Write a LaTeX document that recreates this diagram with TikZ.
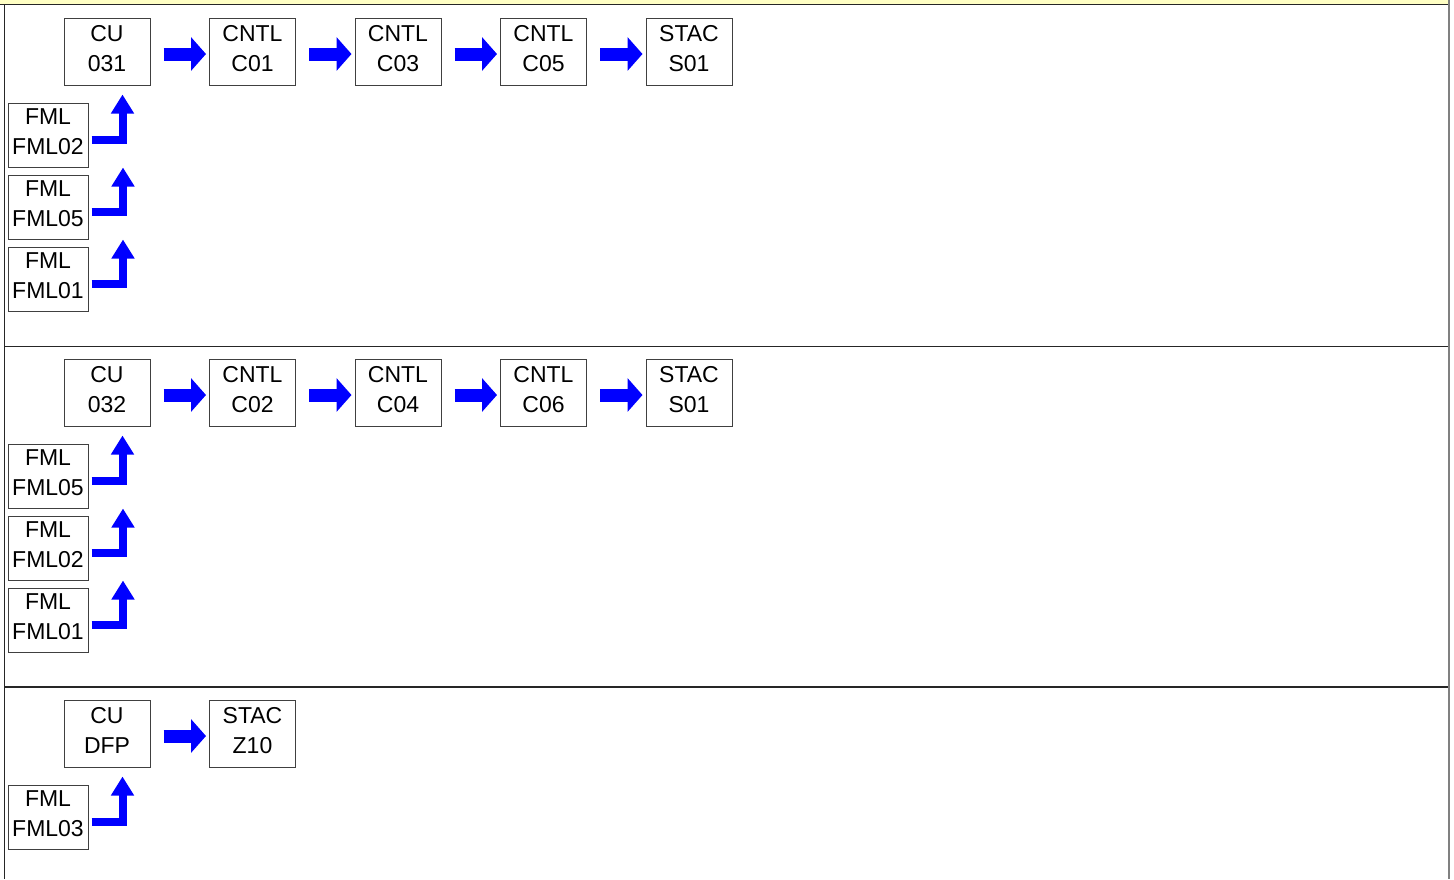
\documentclass[tikz,border=0pt]{standalone}
\usepackage{fontspec}
\setmainfont{Liberation Sans}
\usetikzlibrary{arrows.meta,positioning}

\definecolor{notebg}{HTML}{FFFFC4}
\definecolor{framegray}{HTML}{808080}
\definecolor{boxline}{HTML}{404040}

\tikzstyle{unit} = [rectangle, draw=boxline, line width=1pt, fill=white, minimum width=86pt, minimum height=67pt, inner sep=0pt, align=center, font=\fontsize{23}{30}\selectfont, execute at end node={\rule[-6pt]{0pt}{6pt}}]
\tikzstyle{feeder} = [unit, minimum width=80pt, minimum height=64pt]
\tikzstyle{flow} = [line width=13pt, blue, -{Triangle[length=15pt,width=33pt]}, shorten <=13pt, shorten >=3pt]
\tikzstyle{feed} = [line width=8pt, blue, line join=miter, -{Triangle[length=19pt,width=22pt]}, shorten <=3pt]
\tikzstyle{divider} = [line width=1.5pt, black!85]

\begin{document}
\begin{tikzpicture}[x=1pt, y=-1pt, node distance=145.5pt]

    \useasboundingbox (0,0) rectangle (1454,879);

    % Draw frame
    \fill[notebg] (0,0) rectangle (1448,4);
    \draw[divider] (0,4.5) -- (1448,4.5);
    \draw[line width=1.3pt, black!85] (4.5,5) -- (4.5,879);
    \draw[line width=2pt, framegray] (1448.5,0) -- (1448.5,879);
    \draw[divider] (4,346.5) -- (1448,346.5);
    \draw[divider] (4,687) -- (1448,687);

    % Draw nodes (first row)
    \node (cuA) [unit] at (107,51.5) {CU\\031};
    \node (cntlA) [unit, right of=cuA] {CNTL\\C01};
    \node (cntlB) [unit, right of=cntlA] {CNTL\\C03};
    \node (cntlC) [unit, right of=cntlB] {CNTL\\C05};
    \node (stacA) [unit, right of=cntlC] {STAC\\S01};
    \node (fmlA) [feeder, below of=cuA, node distance=83.5pt, xshift=-59pt] {FML\\FML02};
    \node (fmlB) [feeder, below of=fmlA, node distance=72pt] {FML\\FML05};
    \node (fmlC) [feeder, below of=fmlB, node distance=72pt] {FML\\FML01};

    % Draw nodes (second row)
    \node (cuB) [unit] at (107,392.5) {CU\\032};
    \node (cntlD) [unit, right of=cuB] {CNTL\\C02};
    \node (cntlE) [unit, right of=cntlD] {CNTL\\C04};
    \node (cntlF) [unit, right of=cntlE] {CNTL\\C06};
    \node (stacB) [unit, right of=cntlF] {STAC\\S01};
    \node (fmlD) [feeder, below of=cuB, node distance=83.5pt, xshift=-59pt] {FML\\FML05};
    \node (fmlE) [feeder, below of=fmlD, node distance=72pt] {FML\\FML02};
    \node (fmlF) [feeder, below of=fmlE, node distance=72pt] {FML\\FML01};

    % Draw nodes (third row)
    \node (cuC) [unit] at (107,733.5) {CU\\DFP};
    \node (stacC) [unit, right of=cuC] {STAC\\Z10};
    \node (fmlG) [feeder, below of=cuC, node distance=83.5pt, xshift=-59pt] {FML\\FML03};

    % Draw connections
    \draw [flow] ([yshift=-2.5pt]cuA.east) -- ([yshift=-2.5pt]cntlA.west);
    \draw [flow] ([yshift=-2.5pt]cntlA.east) -- ([yshift=-2.5pt]cntlB.west);
    \draw [flow] ([yshift=-2.5pt]cntlB.east) -- ([yshift=-2.5pt]cntlC.west);
    \draw [flow] ([yshift=-2.5pt]cntlC.east) -- ([yshift=-2.5pt]stacA.west);
    \draw [feed] ([yshift=-5pt]fmlA.east) -| ([xshift=15.5pt,yshift=-9pt]cuA.south);
    \draw [feed] ([yshift=-5pt]fmlB.east) -| ([xshift=34.5pt]fmlA.south east);
    \draw [feed] ([yshift=-5pt]fmlC.east) -| ([xshift=34.5pt]fmlB.south east);

    \draw [flow] ([yshift=-2.5pt]cuB.east) -- ([yshift=-2.5pt]cntlD.west);
    \draw [flow] ([yshift=-2.5pt]cntlD.east) -- ([yshift=-2.5pt]cntlE.west);
    \draw [flow] ([yshift=-2.5pt]cntlE.east) -- ([yshift=-2.5pt]cntlF.west);
    \draw [flow] ([yshift=-2.5pt]cntlF.east) -- ([yshift=-2.5pt]stacB.west);
    \draw [feed] ([yshift=-5pt]fmlD.east) -| ([xshift=15.5pt,yshift=-9pt]cuB.south);
    \draw [feed] ([yshift=-5pt]fmlE.east) -| ([xshift=34.5pt]fmlD.south east);
    \draw [feed] ([yshift=-5pt]fmlF.east) -| ([xshift=34.5pt]fmlE.south east);

    \draw [flow] ([yshift=-2.5pt]cuC.east) -- ([yshift=-2.5pt]stacC.west);
    \draw [feed] ([yshift=-5pt]fmlG.east) -| ([xshift=15.5pt,yshift=-9pt]cuC.south);

\end{tikzpicture}
\end{document}
